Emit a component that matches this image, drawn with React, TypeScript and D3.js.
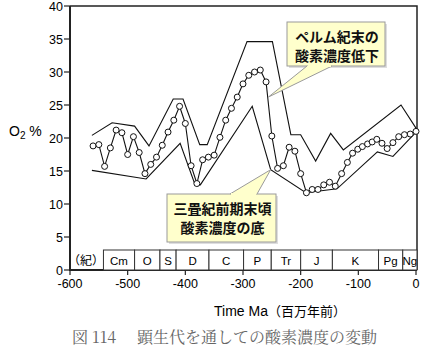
import { useEffect, useRef } from "react";
import * as d3 from "d3";

// O2 estimate (circles)
const o2Times = [-560, -550, -540, -530, -520, -510, -500, -490, -480, -470, -460, -450, -440, -430, -420, -410, -400, -390, -380, -370, -360, -350, -340, -330, -320, -310, -300, -290, -280, -270, -260, -250, -240, -230, -220, -210, -200, -190, -180, -170, -160, -150, -140, -129, -119, -110, -101, -93, -84, -76, -68, -59, -50, -40, -30, -20, -10, 0];
const o2Values = [18.8, 19.0, 15.7, 18.5, 21.2, 20.8, 17.5, 20.2, 17.8, 14.6, 16.0, 17.1, 18.9, 20.9, 22.7, 24.8, 22.2, 15.8, 13.1, 16.7, 17.1, 17.4, 20.1, 22.7, 24.5, 26.2, 28.2, 29.5, 30.0, 30.3, 28.5, 20.3, 15.4, 15.8, 18.6, 18.0, 14.6, 11.7, 12.2, 12.2, 12.9, 13.3, 12.7, 14.6, 16.3, 17.7, 18.3, 18.7, 19.1, 19.4, 19.8, 19.2, 18.4, 19.3, 20.2, 20.5, 20.6, 21.0];

// error envelope
const upperTimes = [-562, -527, -488, -463, -421, -404, -375, -362, -293, -249, -217, -200, -174, -148, -126, -26, 0];
const upperValues = [20.4, 22.3, 21.8, 18.8, 25.9, 25.9, 19.0, 19.0, 34.6, 34.6, 20.5, 20.5, 16.5, 20.7, 18.2, 25.0, 21.5];
const lowerTimes = [-562, -468, -409, -383, -374, -284, -252, -191, -137, -67, -40, 0];
const lowerValues = [15.1, 13.8, 19.2, 12.9, 12.9, 24.8, 15.2, 11.7, 12.3, 17.9, 17.2, 20.9];

// geologic periods (start, Ma)
const periodNames = ["Cm", "O", "S", "D", "C", "P", "Tr", "J", "K", "Pg", "Ng"];
const periodStarts = [-542, -488, -444, -416, -359, -299, -251, -200, -145, -65, -23];

const xTicks = [-600, -500, -400, -300, -200, -100, 0];
const yTicks = [0, 5, 10, 15, 20, 25, 30, 35, 40];

const calloutTop = ["ペルム紀末の", "酸素濃度低下"];
const calloutBottom = ["三畳紀前期末頃", "酸素濃度の底"];

const sans = "'Liberation Sans', Arial, sans-serif";
const jp = "'Noto Sans CJK JP', sans-serif";

export default function App() {
    const ref = useRef<SVGSVGElement>(null);

    useEffect(() => {
        document.body.style.margin = "0";
        const svg = d3.select(ref.current);
        svg.selectAll("*").remove();

        const x = d3.scaleLinear().domain([-600, 0]).range([70, 416]);
        const y = d3.scaleLinear().domain([0, 40]).range([270, 6]);
        const right = 417;

        // frame
        svg.append("path")
            .attr("d", `M70,${y(40)}H${right}V${y(0)}`)
            .attr("fill", "none").attr("stroke", "#222").attr("stroke-width", 1.5);
        svg.append("path")
            .attr("d", `M70,${y(40)}V${y(0)}H${right}`)
            .attr("fill", "none").attr("stroke", "#222").attr("stroke-width", 2);

        // y ticks
        svg.selectAll(".ytick").data(yTicks).join("line")
            .attr("x1", 64).attr("x2", 70)
            .attr("y1", d => y(d)).attr("y2", d => y(d))
            .attr("stroke", "#222").attr("stroke-width", 1.2);
        svg.selectAll(".ylab").data(yTicks).join("text")
            .attr("x", 63).attr("y", d => y(d) + 4.5)
            .attr("text-anchor", "end")
            .attr("font-family", sans).attr("font-size", 12.5)
            .text(d => d);

        // x ticks
        svg.selectAll(".xtick").data(xTicks).join("line")
            .attr("x1", d => x(d)).attr("x2", d => x(d))
            .attr("y1", y(0)).attr("y2", y(0) + 5)
            .attr("stroke", "#222").attr("stroke-width", 1.2);
        svg.selectAll(".xlab").data(xTicks).join("text")
            .attr("x", d => x(d)).attr("y", 288)
            .attr("text-anchor", "middle")
            .attr("font-family", sans).attr("font-size", 12.5)
            .text(d => d);

        // axis titles
        const yt = svg.append("text").attr("x", 9).attr("y", 136)
            .attr("font-family", sans).attr("font-size", 14);
        yt.append("tspan").text("O");
        yt.append("tspan").attr("font-size", 10).attr("dy", 3).text("2");
        yt.append("tspan").attr("dy", -3).text(" %");

        const xt = svg.append("text").attr("x", 214).attr("y", 316)
            .attr("font-family", sans).attr("font-size", 14);
        xt.append("tspan").text("Time Ma");
        xt.append("tspan").attr("font-family", jp).attr("font-size", 13).text("（百万年前）");

        // period row
        const periods = periodNames.map((name, i) => ({
            name,
            start: periodStarts[i],
            end: i + 1 < periodStarts.length ? periodStarts[i + 1] : 0,
        }));
        svg.selectAll(".period").data(periods).join("rect")
            .attr("x", d => x(d.start))
            .attr("y", 250)
            .attr("width", d => (d.end === 0 ? right : x(d.end)) - x(d.start))
            .attr("height", y(0) - 250)
            .attr("fill", "white").attr("stroke", "#333").attr("stroke-width", 1);
        svg.selectAll(".plab").data(periods).join("text")
            .attr("x", d => (x(d.start) + (d.end === 0 ? right : x(d.end))) / 2)
            .attr("y", 265)
            .attr("text-anchor", "middle")
            .attr("font-family", sans).attr("font-size", 11.5)
            .text(d => d.name);
        svg.append("text").attr("x", 86).attr("y", 265)
            .attr("text-anchor", "middle")
            .attr("font-family", jp).attr("font-size", 12)
            .text("（紀）");

        // envelope + O2 curve
        const upper = upperTimes.map((t, i) => [t, upperValues[i]] as [number, number]);
        const lower = lowerTimes.map((t, i) => [t, lowerValues[i]] as [number, number]);
        const o2 = o2Times.map((t, i) => [t, o2Values[i]] as [number, number]);
        const line = d3.line<[number, number]>().x(d => x(d[0])).y(d => y(d[1]));

        svg.selectAll(".env").data([upper, lower]).join("path")
            .attr("d", d => line(d))
            .attr("fill", "none").attr("stroke", "#111").attr("stroke-width", 1.1);
        svg.append("path").attr("d", line(o2))
            .attr("fill", "none").attr("stroke", "#111").attr("stroke-width", 1.1);
        svg.selectAll(".pt").data(o2).join("circle")
            .attr("cx", d => x(d[0])).attr("cy", d => y(d[1])).attr("r", 3)
            .attr("fill", "white").attr("stroke", "#111").attr("stroke-width", 1);

        /**
         * Callouts: box + wedge pointing at the curve.  The tip is in data
         * coords, the wedge base sits on the box edge (pixels).
         */
        const callout = (bx: number, by: number, bw: number, bh: number,
                         tip: [number, number], baseL: number, baseR: number, baseY: number,
                         lines: string[], firstBase: number) => {
            const g = svg.append("g");
            const tx = x(tip[0]), ty = y(tip[1]);
            g.append("rect").attr("x", bx + 2).attr("y", by + 2).attr("width", bw).attr("height", bh)
                .attr("fill", "#c8c8c8").attr("opacity", 0.6);
            g.append("rect").attr("x", bx).attr("y", by).attr("width", bw).attr("height", bh)
                .attr("fill", "#ffffcc").attr("stroke", "#9a9a9a").attr("stroke-width", 1);
            g.append("path")
                .attr("d", `M${baseL},${baseY}L${tx},${ty}L${baseR},${baseY}`)
                .attr("fill", "#ffffcc").attr("stroke", "#9a9a9a").attr("stroke-width", 1);
            g.append("line").attr("x1", baseL + 1).attr("x2", baseR - 1)
                .attr("y1", baseY).attr("y2", baseY)
                .attr("stroke", "#ffffcc").attr("stroke-width", 2);
            g.selectAll("text").data(lines).join("text")
                .attr("x", bx + bw / 2 + 1).attr("y", (d, i) => firstBase + i * 19)
                .attr("text-anchor", "middle")
                .attr("font-family", jp).attr("font-weight", 700).attr("font-size", 14)
                .attr("fill", "#111")
                .text(d => d);
        };
        callout(287, 22, 98, 44, [-256, 26.2], 307, 332, 66, calloutTop, 42);
        callout(167, 194, 109, 48, [-252, 15.2], 230, 257, 194, calloutBottom, 214);

        // caption
        const cap = svg.append("text").attr("x", 72).attr("y", 343)
            .attr("font-family", "'Noto Serif CJK JP', 'Noto Sans CJK JP', serif")
            .attr("font-size", 16).attr("fill", "#666");
        cap.append("tspan").text("図 114");
        cap.append("tspan").attr("x", 137).text("顕生代を通しての酸素濃度の変動");
    }, []);

    return (
        <div style={{ position: "absolute", left: 0, top: 0 }}>
            <svg ref={ref} width={426} height={354} style={{ display: "block", background: "white" }} />
        </div>
    );
}
